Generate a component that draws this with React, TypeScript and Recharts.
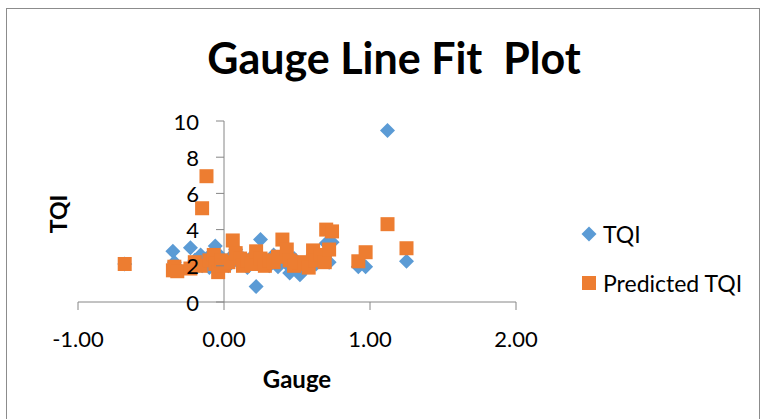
import { ScatterChart, Scatter, XAxis, YAxis, ReferenceLine } from 'recharts';

// one observation per index: gauge reading, measured TQI, regression-predicted TQI
const gauge = [
  -0.68, -0.35, -0.34, -0.32, -0.23, -0.2, -0.16, -0.15, -0.12, -0.1, -0.07, -0.06, -0.04, -0.02,
  0.0, 0.03, 0.06, 0.08, 0.11, 0.13, 0.16, 0.19, 0.22, 0.25, 0.28, 0.31, 0.34, 0.37, 0.4, 0.43,
  0.45, 0.48, 0.52, 0.55, 0.58, 0.61, 0.63, 0.66, 0.69, 0.7, 0.72, 0.74, 0.92, 0.97, 1.12, 1.25,
];
const tqi = [
  2.1, 2.8, 2.2, 1.9, 3.0, 2.3, 2.6, 2.0, 2.4, 1.9, 2.2, 3.1, 1.8, 2.5,
  2.2, 2.0, 2.6, 2.9, 2.1, 2.4, 1.9, 2.5, 0.85, 3.45, 2.2, 2.0, 2.6, 1.95, 2.3, 2.1,
  1.6, 2.4, 1.5, 2.0, 2.2, 2.6, 2.1, 2.3, 2.5, 3.25, 2.2, 3.3, 1.95, 1.95, 9.47, 2.25,
];
const predictedTqi = [
  2.1, 1.75, 1.95, 1.7, 1.85, 2.2, 2.0, 5.18, 6.95, 2.3, 2.6, 2.1, 1.65, 2.3,
  2.0, 2.2, 3.4, 2.7, 2.4, 2.0, 2.3, 2.1, 2.8, 2.4, 2.0, 2.3, 2.2, 2.5, 3.45, 2.9,
  2.3, 2.0, 2.2, 2.1, 1.9, 2.85, 2.3, 2.6, 2.2, 4.0, 2.9, 3.9, 2.25, 2.75, 4.3, 2.97,
];
const seriesNames = ['TQI', 'Predicted TQI'];
const xTicks = [-1, 0, 1, 2];
const yTicks = [0, 2, 4, 6, 8, 10];

const tqiPoints = gauge.map((g, i) => ({ gauge: g, value: tqi[i] }));
const predictedPoints = gauge.map((g, i) => ({ gauge: g, value: predictedTqi[i] }));

const BLUE = '#5B9BD5';
const ORANGE = '#ED7D31';
const AXIS = '#868686';
const FONT = 'Lato, "Open Sans", sans-serif';

const W = 767;
const H = 419;
const X_MIN = -1;
const X_MAX = 2;
const MARGIN = { top: 121, right: 251, bottom: 77, left: 77 };
const Y_AXIS_W = 1;
const PLOT_LEFT = MARGIN.left + Y_AXIS_W;
const PLOT_W = W - PLOT_LEFT - MARGIN.right;
// the vertical axis crosses at gauge = 0
const Y_AXIS_X = PLOT_LEFT + ((0 - X_MIN) / (X_MAX - X_MIN)) * PLOT_W;

const Diamond = ({ cx, cy, fill }: any) => (
  <polygon
    points={`${cx},${cy - 7.5} ${cx + 7.5},${cy} ${cx},${cy + 7.5} ${cx - 7.5},${cy}`}
    fill={fill}
  />
);

const Square = ({ cx, cy, fill }: any) => (
  <rect x={cx - 7} y={cy - 7} width={14} height={14} fill={fill} />
);

const YTick = ({ y, payload }: any) => (
  <g>
    <line x1={Y_AXIS_X - 8} x2={Y_AXIS_X} y1={y} y2={y} stroke={AXIS} />
    <text
      x={Y_AXIS_X - 25}
      y={y}
      textAnchor="end"
      dominantBaseline="central"
      fontSize={22}
      fontFamily={FONT}
      fill="#000"
    >
      {payload.value}
    </text>
  </g>
);

const XTick = ({ x, y, payload }: any) => (
  <text
    x={x}
    y={y + 28}
    textAnchor="middle"
    dominantBaseline="central"
    fontSize={22}
    fontFamily={FONT}
    fill="#000"
  >
    {payload.value.toFixed(2)}
  </text>
);

const LegendBlock = () => (
  <div
    style={{
      position: 'absolute',
      left: 581,
      top: 209,
      fontFamily: FONT,
      fontSize: 23,
      color: '#000',
    }}
  >
    {seriesNames.map((name, i) => (
      <div key={name} style={{ display: 'flex', alignItems: 'center', height: 49 }}>
        <svg width={16} height={16} style={{ marginRight: 6 }}>
          {i === 0 ? (
            <polygon points="8,0.5 15.5,8 8,15.5 0.5,8" fill={BLUE} />
          ) : (
            <rect x={1} y={1} width={14} height={14} fill={ORANGE} />
          )}
        </svg>
        <span>{name}</span>
      </div>
    ))}
  </div>
);

export default function App() {
  return (
    <div
      style={{
        position: 'absolute',
        left: 0,
        top: 0,
        width: W,
        height: H,
        background: '#fff',
        overflow: 'hidden',
        fontFamily: FONT,
      }}
    >
      <div
        style={{
          position: 'absolute',
          left: 6,
          top: 8,
          width: 754,
          height: H,
          border: '1px solid #8c8c8c',
          boxSizing: 'border-box',
        }}
      />
      <div
        style={{
          position: 'absolute',
          left: 0,
          width: 788,
          top: 32,
          textAlign: 'center',
          fontSize: 43,
          fontWeight: 700,
          whiteSpace: 'pre',
          lineHeight: '52px',
        }}
      >
        Gauge Line Fit  Plot
      </div>
      <div
        style={{
          position: 'absolute',
          left: 58,
          top: 214,
          transform: 'translate(-50%, -50%) rotate(-90deg)',
          fontSize: 23,
          fontWeight: 700,
        }}
      >
        TQI
      </div>
      <div
        style={{
          position: 'absolute',
          left: 297,
          top: 378,
          transform: 'translate(-50%, -50%)',
          fontSize: 24,
          fontWeight: 700,
        }}
      >
        Gauge
      </div>
      <ScatterChart width={W} height={H} margin={MARGIN} style={{ position: 'absolute', left: 0, top: 0 }}>
        <XAxis
          type="number"
          dataKey="gauge"
          domain={[X_MIN, X_MAX]}
          ticks={xTicks}
          interval={0}
          height={40}
          stroke={AXIS}
          tickSize={8}
          tickMargin={0}
          tick={<XTick />}
          allowDataOverflow
        />
        <YAxis
          type="number"
          dataKey="value"
          domain={[0, 10]}
          ticks={yTicks}
          interval={0}
          width={Y_AXIS_W}
          axisLine={false}
          tickLine={false}
          tick={<YTick />}
        />
        <Scatter name={seriesNames[0]} data={tqiPoints} fill={BLUE} shape={<Diamond />} isAnimationActive={false} />
        <Scatter
          name={seriesNames[1]}
          data={predictedPoints}
          fill={ORANGE}
          shape={<Square />}
          isAnimationActive={false}
        />
        <ReferenceLine x={0} stroke={AXIS} />
      </ScatterChart>
      <LegendBlock />
    </div>
  );
}
